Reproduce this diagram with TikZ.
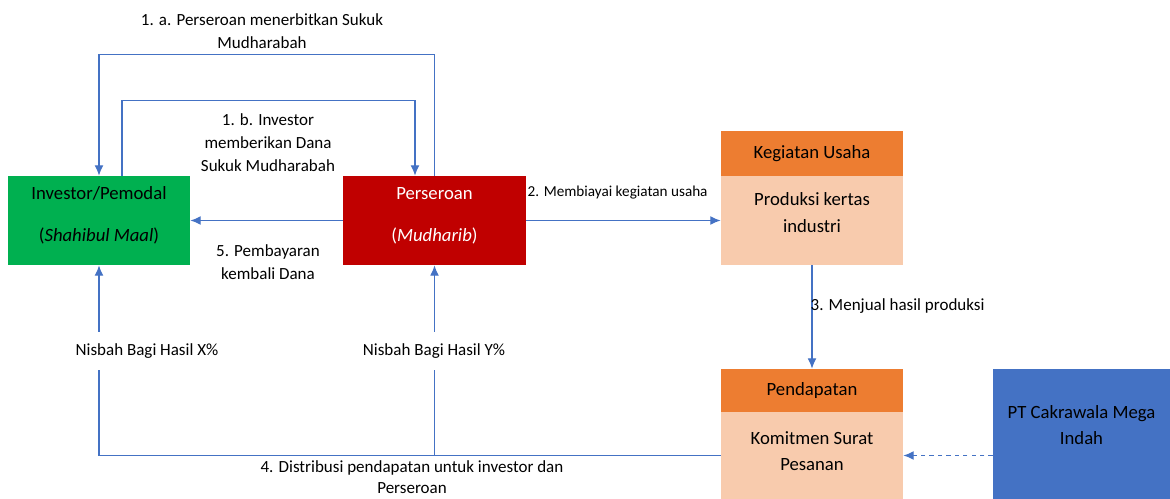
\documentclass[tikz,border=0pt]{standalone}
\usepackage{fontspec}
\setmainfont{Carlito}
\usetikzlibrary{arrows.meta}
\definecolor{lineblue}{HTML}{4472C4}
\definecolor{invgreen}{HTML}{00B050}
\definecolor{persred}{HTML}{C00000}
\definecolor{headorange}{HTML}{ED7D31}
\definecolor{bodypeach}{HTML}{F8CBAD}
\definecolor{ptblue}{HTML}{4472C4}
\begin{document}
\begin{tikzpicture}[x=0.025cm,y=-0.025cm,
    flow/.style={draw=lineblue,line width=0.8pt,-{Latex[length=2.6mm,width=2.2mm]}},
    box/.style={minimum width=4.55cm,minimum height=2.225cm,inner sep=0pt,align=center,
        font=\fontsize{13.3}{19}\selectfont},
    lbl/.style={align=center,inner sep=1pt,font=\fontsize{12.1}{16.3}\selectfont}]
    \useasboundingbox (0,0) rectangle (1170,499);
    \clip (0,0) rectangle (1170,499);
    % boxes
    \node[box,fill=invgreen,text depth=9pt] (inv) at (99,220.5) {Investor/Pemodal\\[10.8pt](\textit{Shahibul Maal})};
    \node[box,fill=persred,text=white,text depth=9pt] (pers) at (434.5,220.5) {Perseroan\\[10.8pt](\textit{Mudharib})};
    \node[box,fill=headorange,minimum height=1.125cm] (kegHead) at (812,153.5) {Kegiatan Usaha};
    \node[box,fill=bodypeach,text depth=11.4pt] (kegBody) at (812,220.5) {Produksi kertas\\industri};
    \node[box,fill=headorange,minimum height=1.075cm] (penHead) at (812,390.5) {Pendapatan};
    \node[box,fill=bodypeach,minimum height=2.175cm,text depth=6.4pt] (penBody) at (812,455.5) {Komitmen Surat\\Pesanan};
    \node[box,fill=ptblue,minimum width=4.425cm,minimum height=3.25cm,text depth=12.8pt] (pt) at (1081.5,434) {PT Cakrawala Mega\\Indah};
    % arrows
    \draw[flow] (pers.north) -- ++(0,-121) -| (inv.north); % 1.a
    \draw[flow] ([xshift=0.575cm]inv.north) -- ++(0,-75) -| ([xshift=-0.4875cm]pers.north); % 1.b
    \draw[flow] (pers.west) -- (inv.east); % 5
    \draw[flow] (pers.east) -- (kegBody.west); % 2
    \draw[flow] (kegBody.south) -- (penHead.north); % 3
    \draw[flow] (penBody.west) -| (inv.south); % 4
    \draw[flow] (penBody.west -| pers.south) -- (pers.south);
    \draw[flow,dashed] (pt.west |- penBody.east) -- (penBody.east);
    % labels
    \node[lbl] (l1a) at (262,31) {1. a. Perseroan menerbitkan Sukuk\\Mudharabah};
    \node[lbl] (l1b) at (268,143) {1. b. Investor\\memberikan Dana\\Sukuk Mudharabah};
    \node[lbl] (l5) at (268,262) {5. Pembayaran\\kembali Dana};
    \node[lbl,anchor=west,font=\fontsize{10.8}{13}\selectfont] (l2) at (526,193) {2. Membiayai kegiatan usaha};
    \node[lbl,anchor=west] (l3) at (809,306) {3. Menjual hasil produksi};
    \node[lbl,fill=white,minimum height=0.925cm] (nx) at (147,351) {Nisbah Bagi Hasil X\%};
    \node[lbl,fill=white,minimum height=0.925cm] (ny) at (434,351) {Nisbah Bagi Hasil Y\%};
    \node[lbl,font=\fontsize{12.1}{15}\selectfont] (l4) at (412,477) {4. Distribusi pendapatan untuk investor dan\\Perseroan};
\end{tikzpicture}
\end{document}
